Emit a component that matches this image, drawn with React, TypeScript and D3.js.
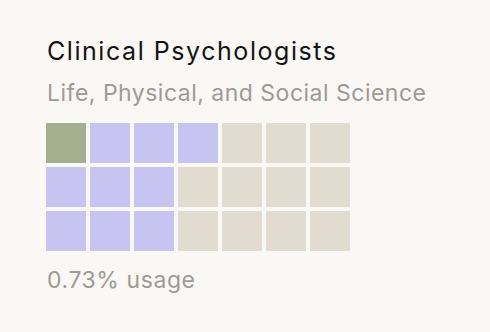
import * as d3 from "d3";
import { useEffect, useRef } from "react";

const title = "Clinical Psychologists";
const subtitle = "Life, Physical, and Social Science";
const usageLabel = "0.73% usage";

// waffle cells, filled column by column
const groups = ["occupation", "category", "rest"];
const counts = [1, 9, 11];
const colors = ["#a3af8f", "#c7c4f2", "#e2dbcf"];
const nRows = 3;
const nCols = 7;

const width = 490;
const height = 332;

export default function App() {
  const svgRef = useRef<SVGSVGElement>(null);

  useEffect(() => {
    const svg = d3.select(svgRef.current);
    svg.selectAll("*").remove();

    svg
      .append("rect")
      .attr("width", width)
      .attr("height", height)
      .attr("fill", "#f9f8f4");

    const font = "Inter, 'Noto Sans', sans-serif";

    svg
      .append("text")
      .attr("x", 47)
      .attr("y", 60)
      .attr("font-family", font)
      .attr("font-size", 25)
      .attr("fill", "#141414")
      .attr("textLength", 289)
      .attr("lengthAdjust", "spacing")
      .text(title);

    svg
      .append("text")
      .attr("x", 47)
      .attr("y", 101)
      .attr("font-family", font)
      .attr("font-size", 23)
      .attr("fill", "#9d9b96")
      .attr("textLength", 379)
      .attr("lengthAdjust", "spacing")
      .text(subtitle);

    // expand counts into one entry per cell
    const cells: { group: string; i: number }[] = [];
    groups.forEach((g, gi) => {
      d3.range(counts[gi]).forEach(() => cells.push({ group: g, i: cells.length }));
    });

    const x = d3
      .scaleBand<number>()
      .domain(d3.range(nCols))
      .range([46, 350])
      .paddingInner(4 / 44)
      .paddingOuter(0);
    const y = d3
      .scaleBand<number>()
      .domain(d3.range(nRows))
      .range([123, 251])
      .paddingInner(4 / 44)
      .paddingOuter(0);
    const color = d3.scaleOrdinal<string, string>().domain(groups).range(colors);

    svg
      .append("g")
      .selectAll("rect")
      .data(cells)
      .join("rect")
      .attr("x", (d) => x(Math.floor(d.i / nRows))!)
      .attr("y", (d) => y(d.i % nRows)!)
      .attr("width", x.bandwidth())
      .attr("height", y.bandwidth())
      .attr("fill", (d) => color(d.group));

    svg
      .append("text")
      .attr("x", 47)
      .attr("y", 288)
      .attr("font-family", font)
      .attr("font-size", 23)
      .attr("fill", "#9d9b96")
      .attr("textLength", 148)
      .attr("lengthAdjust", "spacing")
      .text(usageLabel);
  }, []);

  return (
    <svg
      ref={svgRef}
      width={width}
      height={height}
      style={{ position: "absolute", left: 0, top: 0 }}
    />
  );
}
